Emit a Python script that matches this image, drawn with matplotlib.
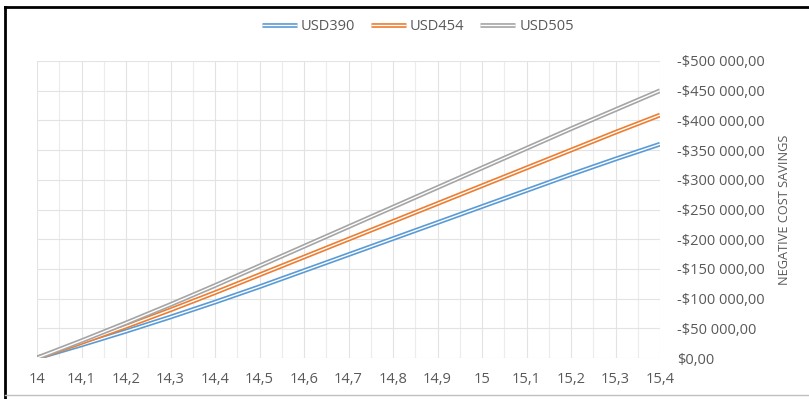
import matplotlib
matplotlib.use("Agg")
import matplotlib.pyplot as plt
import matplotlib.patheffects as pe
from matplotlib.ticker import FuncFormatter, MultipleLocator
import numpy as np

t = [14.0, 14.1, 14.2, 14.3, 14.4, 14.5, 14.6, 14.7, 14.8, 14.9, 15.0, 15.1, 15.2, 15.3, 15.4]
usd390 = [0, 22, 45, 69, 94, 120, 147, 174, 201, 228, 255, 282, 309, 335, 360]
usd454 = [0, 26, 53, 81, 110, 140, 170, 200, 230, 260, 290, 320, 350, 380, 409]
usd505 = [0, 29, 59, 90, 122, 155, 188, 221, 254, 287, 320, 353, 386, 418, 450]
series = [("USD390", usd390, "#5B9BD5"), ("USD454", usd454, "#ED7D31"), ("USD505", usd505, "#A5A5A5")]
x_ticks = [14.0, 14.1, 14.2, 14.3, 14.4, 14.5, 14.6, 14.7, 14.8, 14.9, 15.0, 15.1, 15.2, 15.3, 15.4]

plt.rcParams['font.family'] = ['Open Sans', 'DejaVu Sans']
txt = "#595959"

fig = plt.figure(figsize=(8.09, 3.99), dpi=100)
ax = fig.add_axes([37/809, 1-358/399, (660-37)/809, (358-61)/399])

for name, vals, col in series:
    ax.plot(t, np.array(vals)*1000, color="white", lw=1.0, label=name,
            path_effects=[pe.Stroke(linewidth=3.4, foreground=col), pe.Normal()],
            solid_capstyle="butt", solid_joinstyle="round", zorder=3)

ax.set_xlim(14, 15.4)
ax.set_ylim(0, 500000)
ax.set_xticks(x_ticks)
ax.set_xticklabels([("%g" % v).replace(".", ",") for v in x_ticks])
ax.xaxis.set_minor_locator(MultipleLocator(0.05))
ax.yaxis.set_major_locator(MultipleLocator(50000))
ax.yaxis.tick_right()
ax.yaxis.set_label_position("right")

def fmt(v, pos):
    if v == 0:
        return "$0,00"
    s = f"{int(round(v)):,}".replace(",", " ")
    return "-$" + s + ",00"
ax.yaxis.set_major_formatter(FuncFormatter(fmt))

ax.grid(True, which="major", color="#E3E3E3", lw=0.8)
ax.grid(True, which="minor", axis="x", color="#ECECEC", lw=0.8)
ax.set_axisbelow(True)
for s in ax.spines.values():
    s.set_visible(False)
ax.tick_params(axis="both", which="both", length=0, colors=txt, labelsize=10.5)
ax.tick_params(axis="y", pad=12)
ax.tick_params(axis="x", pad=10)
ax.set_ylabel("NEGATIVE COST SAVINGS", color=txt, fontsize=9.2, labelpad=10)

fig.legend(loc="center", bbox_to_anchor=(418/809, 1-27/399), ncol=3, frameon=False,
           fontsize=10.5, labelcolor=txt, handlelength=2.4, handletextpad=0.25, columnspacing=1.1)

# screenshot frame
fig.add_artist(plt.Line2D([5/809, 5/809], [0, 1-7/399], color="black", lw=2, transform=fig.transFigure))
fig.add_artist(plt.Line2D([5/809, 1], [1-7/399, 1-7/399], color="black", lw=2, transform=fig.transFigure))
fig.add_artist(plt.Line2D([5/809, 1], [1-395/399, 1-395/399], color="#BFBFBF", lw=1, transform=fig.transFigure))

fig.savefig("out.png", dpi=100)
